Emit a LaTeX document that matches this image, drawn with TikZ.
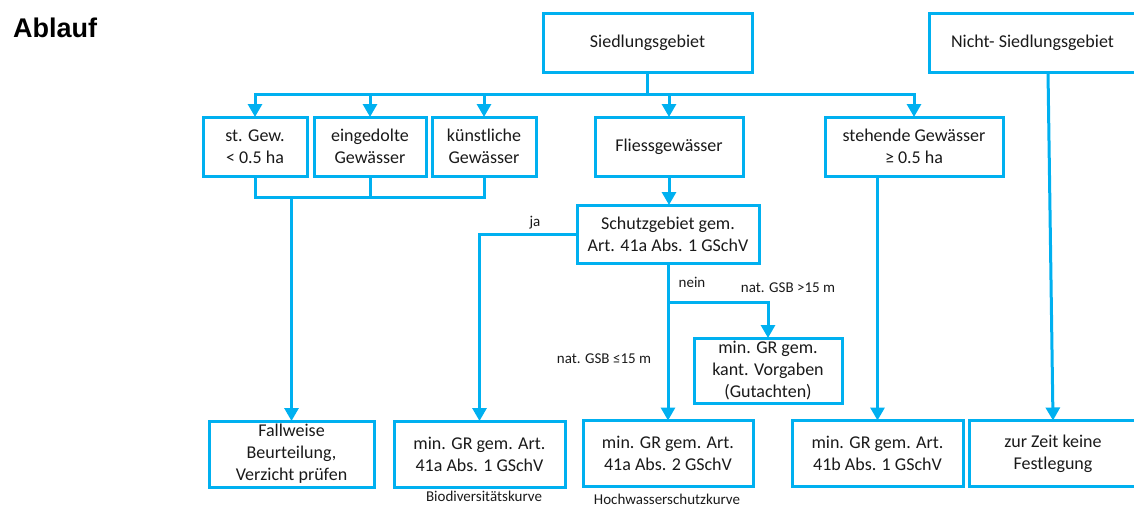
\documentclass[tikz,border=0pt]{standalone}
\usepackage{fontspec}
\setmainfont{Carlito}
\newfontfamily\headfont{Liberation Sans}
\usetikzlibrary{arrows.meta}
\definecolor{flowblue}{HTML}{00B0F0}
\definecolor{txt}{HTML}{1A1A1A}
\begin{document}
\begin{tikzpicture}[x=1pt,y=-1pt,
  box/.style={draw=flowblue,line width=3pt,fill=white,rectangle,outer sep=0pt,inner sep=0pt,
    align=center,text=txt,font=\fontsize{18}{22}\selectfont},
  conn/.style={draw=flowblue,line width=3pt},
  arr/.style={conn,-{Triangle[length=13pt,width=14pt]}},
  lbl/.style={text=txt,font=\fontsize{15}{18}\selectfont,inner sep=0pt},
  note/.style={text=txt,font=\fontsize{15}{18}\selectfont,inner sep=0pt,anchor=base}]
\useasboundingbox (0,0) rectangle (1134,504);

% title
\node[anchor=base west,inner sep=0pt,font=\headfont\bfseries\fontsize{27}{32}\selectfont] (title) at (13,37) {Ablauf};

% top level
\node[box,minimum width=209pt,minimum height=59pt] (sied) at (647.5,42.5) {Siedlungsgebiet};
\node[box,minimum width=207pt,minimum height=59pt] (nicht) at (1032.5,42.5) {Nicht- Siedlungsgebiet};

% second level
\node[box,minimum width=104pt,minimum height=59pt] (st) at (255,146.5) {st. Gew.\\< 0.5 ha};
\node[box,minimum width=112pt,minimum height=59pt] (eing) at (370,146.5) {eingedolte\\Gewässer};
\node[box,minimum width=104pt,minimum height=59pt] (kuen) at (484,146.5) {künstliche\\Gewässer};
\node[box,minimum width=148pt,minimum height=59pt] (fliess) at (669,146.5) {Fliessgewässer};
\node[box,minimum width=178pt,minimum height=59pt] (steh) at (914,146.5) {stehende Gewässer\\≥ 0.5 ha};

% decision
\node[box,minimum width=182pt,minimum height=58pt] (schutz) at (668,234) {Schutzgebiet gem.\\Art. 41a Abs. 1 GSchV};
\node[box,minimum width=148pt,minimum height=65pt] (kant) at (768,370.5) {min. GR gem.\\kant. Vorgaben\\(Gutachten)};

% results
\node[box,minimum width=165pt,minimum height=66pt] (fall) at (291.5,454) {Fallweise\\Beurteilung,\\Verzicht prüfen};
\node[box,minimum width=171pt,minimum height=66pt] (aone) at (479.5,454) {min. GR gem. Art.\\41a Abs. 1 GSchV};
\node[box,minimum width=170pt,minimum height=66pt] (atwo) at (668,453.5) {min. GR gem. Art.\\41a Abs. 2 GSchV};
\node[box,minimum width=171pt,minimum height=66pt] (bone) at (877.5,453.5) {min. GR gem. Art.\\41b Abs. 1 GSchV};
\node[box,minimum width=168pt,minimum height=66pt] (zur) at (1053,453.5) {zur Zeit keine\\Festlegung};

% junction points
\coordinate (split) at (647.5,94);
\coordinate (merge) at (291.5,197);
\coordinate (fork) at (668,302);

% distribution from Siedlungsgebiet
\draw[conn] (sied.south) -- (split);
\draw[arr] (split) -| (st.north);
\draw[arr] (split) -| (eing.north);
\draw[arr] (split) -| (kuen.north);
\draw[arr] (split) -| (fliess.north);
\draw[arr] (split) -| (steh.north);

% small waters merge into case-by-case assessment
\draw[conn] (st.south) |- (merge);
\draw[conn] (kuen.south) |- (merge);
\draw[conn] (eing.south) -- (eing.south |- merge);
\draw[arr] (merge) -- (fall.north);

% running waters
\draw[arr] (fliess.south) -- (fliess.south |- schutz.north);
\draw[arr] (schutz.west) -| (aone.north);
\draw[arr] (schutz.south) -- (atwo.north);
\draw[arr] (fork) -| (kant.north);

% standing waters
\draw[arr] (steh.south -| bone.north) -- (bone.north);

% outside settlement area
\draw[arr] ([xshift=15.5pt]nicht.south) -- (zur.north);

% labels
\node[lbl] (lja) at (535,223) {ja};
\node[lbl] (lnein) at (692,282) {nein};
\node[lbl] (lgt) at (788,288) {nat. GSB >15 m};
\node[lbl] (lle) at (604,359) {nat. GSB ≤15 m};
\node[note] (lbio) at (484,501.5) {Biodiversitätskurve};
\node[note] (lhw) at (667,504) {Hochwasserschutzkurve};
\end{tikzpicture}
\end{document}
